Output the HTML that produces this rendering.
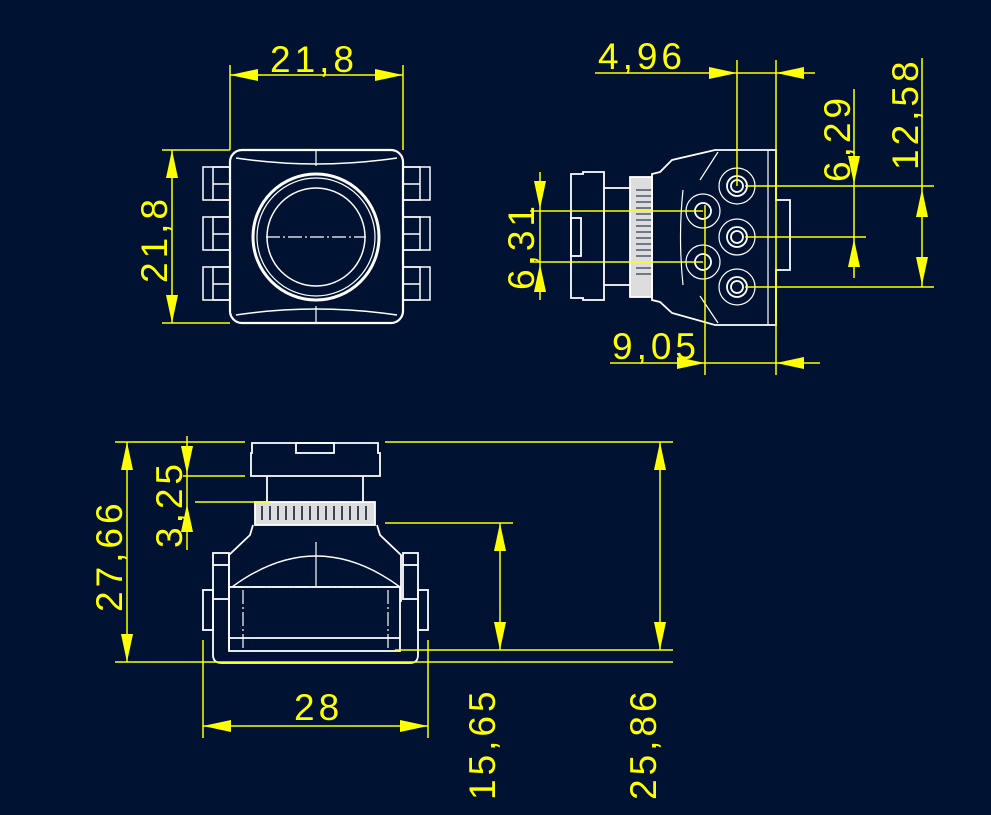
<!DOCTYPE html>
<html><head><meta charset="utf-8"><style>
html,body{margin:0;padding:0;background:#001232;}
svg{display:block}
text{font-family:"Liberation Sans",sans-serif;font-size:37px;fill:#ffff00;letter-spacing:4px}
</style></head><body>
<svg width="991" height="815" viewBox="0 0 991 815" xmlns="http://www.w3.org/2000/svg">
<rect width="991" height="815" fill="#001232"/>
<defs>
<path id="ar" d="M0 0 L-6 -28 L6 -28 Z" fill="#ffff00"/>
</defs>
<!-- ============ VIEW 1 ============ -->
<g stroke="#fff" stroke-width="2.2" fill="none">
<rect x="230" y="150" width="173" height="173" rx="12"/>
<path d="M236 158 Q316 170 397 158 M236 315 Q316 303 397 315" stroke-width="1.5"/>
<line x1="316" y1="150" x2="316" y2="166" stroke-width="1.2"/>
<line x1="316" y1="306" x2="316" y2="323" stroke-width="1.2"/>
<circle cx="316" cy="237" r="63" stroke-width="3"/>
<circle cx="316" cy="237" r="59" stroke-width="1.2"/>
<circle cx="316" cy="237" r="49" stroke-width="1.5"/>
<line x1="266" y1="237" x2="366" y2="237" stroke-width="1.2" stroke-dasharray="14 3 2 3"/>
<g stroke-width="1.5">
<rect x="203" y="167" width="27" height="33"/><rect x="213" y="167" width="17" height="33"/>
<rect x="203" y="217" width="27" height="33"/><rect x="213" y="217" width="17" height="33"/>
<rect x="203" y="267" width="27" height="33"/><rect x="213" y="267" width="17" height="33"/>
<line x1="213" y1="184" x2="230" y2="184"/><line x1="213" y1="234" x2="230" y2="234"/><line x1="213" y1="284" x2="230" y2="284"/>
<rect x="403" y="167" width="27" height="33"/><rect x="403" y="167" width="17" height="33"/>
<rect x="403" y="217" width="27" height="33"/><rect x="403" y="217" width="17" height="33"/>
<rect x="403" y="267" width="27" height="33"/><rect x="403" y="267" width="17" height="33"/>
<line x1="403" y1="184" x2="420" y2="184"/><line x1="403" y1="234" x2="420" y2="234"/><line x1="403" y1="284" x2="420" y2="284"/>
</g>
</g>
<g stroke="#ffff00" stroke-width="1.5">
<line x1="230" y1="65" x2="230" y2="150"/><line x1="403" y1="65" x2="403" y2="150"/>
<line x1="230" y1="75" x2="403" y2="75"/>
<line x1="162" y1="150" x2="230" y2="150"/><line x1="162" y1="323" x2="230" y2="323"/>
<line x1="172" y1="150" x2="172" y2="323"/>
</g>
<use href="#ar" transform="translate(230,75) rotate(90)"/>
<use href="#ar" transform="translate(403,75) rotate(-90)"/>
<use href="#ar" transform="translate(172,150) rotate(180)"/>
<use href="#ar" transform="translate(172,323)"/>
<text x="270" y="72">21,8</text>
<text transform="translate(167,283) rotate(-90)">21,8</text>

<!-- ============ VIEW 2 ============ -->
<g stroke="#fff" stroke-width="1.8" fill="none">
<path d="M571 174 H583 V172 H604 V300 H583 V298 H571 Z"/>
<rect x="571" y="218" width="10" height="38"/>
<line x1="604" y1="188" x2="630" y2="188"/><line x1="604" y1="285" x2="630" y2="285"/>
<rect x="630" y="177" width="22" height="120" fill="#ddd" stroke="#fff"/>
<g stroke="#001232" stroke-width="1"><line x1="636" y1="190" x2="652" y2="190"/><line x1="636" y1="196" x2="652" y2="196"/><line x1="636" y1="202" x2="652" y2="202"/><line x1="636" y1="208" x2="652" y2="208"/><line x1="636" y1="214" x2="652" y2="214"/><line x1="636" y1="220" x2="652" y2="220"/><line x1="636" y1="226" x2="652" y2="226"/><line x1="636" y1="232" x2="652" y2="232"/><line x1="636" y1="238" x2="652" y2="238"/><line x1="636" y1="244" x2="652" y2="244"/><line x1="636" y1="250" x2="652" y2="250"/><line x1="636" y1="256" x2="652" y2="256"/><line x1="636" y1="262" x2="652" y2="262"/><line x1="636" y1="268" x2="652" y2="268"/><line x1="636" y1="274" x2="652" y2="274"/></g>
<path d="M652 174 L660 172 L672 160 L715 150 L776 150 V200 H790 V270 H776 V325 L715 325 L672 313 L660 302 L652 300 Z"/>
<path d="M776 160 V315 M768 150 V325" stroke-width="1.2"/>
<path d="M718 152 L700 180 M718 323 L700 296" stroke-width="1.2"/>
<circle cx="703" cy="211" r="8"/><circle cx="703" cy="211" r="17" stroke-width="1.2"/>
<circle cx="703" cy="262" r="8"/><circle cx="703" cy="262" r="17" stroke-width="1.2"/>
<circle cx="737" cy="186" r="10"/><circle cx="737" cy="186" r="6"/><circle cx="737" cy="186" r="18" stroke-width="1.2"/>
<circle cx="737" cy="237" r="10"/><circle cx="737" cy="237" r="6"/><circle cx="737" cy="237" r="18" stroke-width="1.2"/>
<circle cx="737" cy="287" r="10"/><circle cx="737" cy="287" r="6"/><circle cx="737" cy="287" r="18" stroke-width="1.2"/>
<path d="M683 190 Q678 237 683 285" stroke-width="1.2"/>
</g>
<g stroke="#ffff00" stroke-width="1.5">
<line x1="737" y1="60" x2="737" y2="186"/><line x1="776" y1="60" x2="776" y2="375"/>
<line x1="595" y1="73" x2="815" y2="73"/>
<line x1="745" y1="186" x2="934" y2="186"/><line x1="745" y1="237" x2="866" y2="237"/><line x1="745" y1="287" x2="934" y2="287"/>
<line x1="854" y1="89" x2="854" y2="278"/><line x1="922" y1="58" x2="922" y2="287"/>
<line x1="530" y1="211" x2="703" y2="211"/><line x1="530" y1="262" x2="703" y2="262"/>
<line x1="540" y1="172" x2="540" y2="300"/>
<line x1="705" y1="205" x2="705" y2="375"/>
<line x1="610" y1="363" x2="820" y2="363"/>
</g>
<use href="#ar" transform="translate(737,73) rotate(-90)"/>
<use href="#ar" transform="translate(776,73) rotate(90)"/>
<use href="#ar" transform="translate(854,184)"/>
<use href="#ar" transform="translate(854,239) rotate(180)"/>
<use href="#ar" transform="translate(922,189) rotate(180)"/>
<use href="#ar" transform="translate(922,285)"/>
<use href="#ar" transform="translate(540,209)"/>
<use href="#ar" transform="translate(540,264) rotate(180)"/>
<use href="#ar" transform="translate(705,363) rotate(-90)"/>
<use href="#ar" transform="translate(776,363) rotate(90)"/>
<text x="598" y="69">4,96</text>
<text x="612" y="359">9,05</text>
<text transform="translate(850,182) rotate(-90)">6,29</text>
<text transform="translate(918,170) rotate(-90)">12,58</text>
<text transform="translate(534,290) rotate(-90)">6,31</text>

<!-- ============ VIEW 3 ============ -->
<g stroke="#fff" stroke-width="1.8" fill="none">
<path d="M252 443 H378 V453 H380 V476 H251 V453 H252 Z"/>
<rect x="296" y="443" width="38" height="10"/>
<line x1="267" y1="476" x2="267" y2="502"/><line x1="363" y1="476" x2="363" y2="502"/>
<rect x="255" y="502" width="120" height="23" fill="#ddd"/>
<g stroke="#001232" stroke-width="1.5"><line x1="262" y1="506" x2="262" y2="520"/><line x1="270" y1="506" x2="270" y2="520"/><line x1="278" y1="506" x2="278" y2="520"/><line x1="286" y1="506" x2="286" y2="520"/><line x1="294" y1="506" x2="294" y2="520"/><line x1="302" y1="506" x2="302" y2="520"/><line x1="310" y1="506" x2="310" y2="520"/><line x1="318" y1="506" x2="318" y2="520"/><line x1="326" y1="506" x2="326" y2="520"/><line x1="334" y1="506" x2="334" y2="520"/><line x1="342" y1="506" x2="342" y2="520"/><line x1="350" y1="506" x2="350" y2="520"/><line x1="358" y1="506" x2="358" y2="520"/><line x1="366" y1="506" x2="366" y2="520"/></g>
<path d="M253 525 L250 535 L229 555 V650 M377 525 L380 535 L401 555 V602"/>
<path d="M232 587 Q316 525 400 587" stroke-width="1.4"/>
<line x1="316" y1="542" x2="316" y2="587" stroke-width="1.2"/>
<line x1="229" y1="587" x2="400" y2="587" stroke-width="1.2" stroke-dasharray="14 3 2 3"/>
<rect x="229" y="587" width="171" height="64"/>
<line x1="229" y1="638" x2="400" y2="638"/>
<line x1="243" y1="590" x2="243" y2="650" stroke-dasharray="14 3 2 3" stroke-width="1.2"/>
<line x1="388" y1="590" x2="388" y2="650" stroke-dasharray="14 3 2 3" stroke-width="1.2"/>
<rect x="213" y="553" width="16" height="46"/><rect x="203" y="590" width="10" height="40"/>
<rect x="403" y="553" width="15" height="46"/><rect x="418" y="590" width="10" height="40"/>
<line x1="213" y1="565" x2="229" y2="565"/><line x1="403" y1="565" x2="418" y2="565"/>
<line x1="213" y1="600" x2="213" y2="640"/>
<path d="M213 640 V655 Q213 663 222 663 H410 Q418 663 418 655 V600"/>
</g>
<g stroke="#ffff00" stroke-width="1.5">
<line x1="115" y1="442" x2="245" y2="442"/><line x1="385" y1="442" x2="673" y2="442"/>
<line x1="115" y1="662" x2="673" y2="662"/>
<line x1="395" y1="650" x2="673" y2="650"/>
<line x1="127" y1="442" x2="127" y2="662"/>
<line x1="183" y1="476" x2="245" y2="476"/><line x1="195" y1="502" x2="270" y2="502"/>
<line x1="187" y1="436" x2="187" y2="550"/>
<line x1="203" y1="640" x2="203" y2="738"/><line x1="428" y1="640" x2="428" y2="738"/>
<line x1="203" y1="726" x2="428" y2="726"/>
<line x1="385" y1="523" x2="513" y2="523"/>
<line x1="500" y1="523" x2="500" y2="650"/>
<line x1="660" y1="442" x2="660" y2="650"/>
</g>
<use href="#ar" transform="translate(127,442) rotate(180)"/>
<use href="#ar" transform="translate(127,662)"/>
<use href="#ar" transform="translate(187,474)"/>
<use href="#ar" transform="translate(187,504) rotate(180)"/>
<use href="#ar" transform="translate(203,726) rotate(90)"/>
<use href="#ar" transform="translate(428,726) rotate(-90)"/>
<use href="#ar" transform="translate(500,523) rotate(180)"/>
<use href="#ar" transform="translate(500,650)"/>
<use href="#ar" transform="translate(660,442) rotate(180)"/>
<use href="#ar" transform="translate(660,650)"/>
<text transform="translate(122,612) rotate(-90)">27,66</text>
<text transform="translate(182,548) rotate(-90)">3,25</text>
<text x="294" y="720">28</text>
<text transform="translate(495,800) rotate(-90)">15,65</text>
<text transform="translate(656,800) rotate(-90)">25,86</text>
</svg>
</body></html>
